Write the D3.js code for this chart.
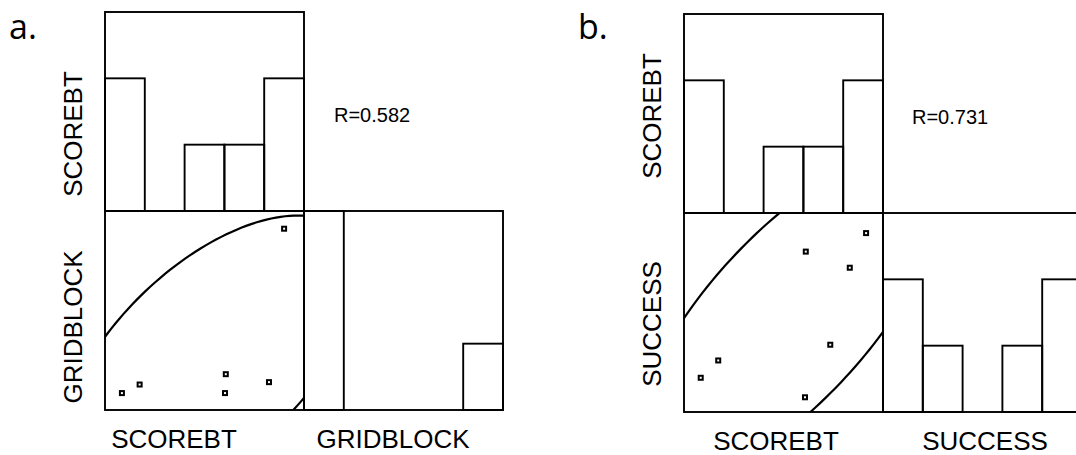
<!DOCTYPE html>
<html>
<head>
<meta charset="utf-8">
<script src="https://cdn.jsdelivr.net/npm/d3@7"></script>
<style>
  body { margin: 0; background: #fff; }
  svg { display: block; }
  text { font-family: "Liberation Sans", Arial, sans-serif; fill: #000; }
</style>
</head>
<body>
<svg id="chart" width="1076" height="455"></svg>
<script>
// values (0-100 units for the scatter axes)
const scorebtA = [8.5, 17.4, 60.7, 60.3, 82.4, 90.0];
const gridblockA = [8.5, 12.8, 18.0, 8.5, 14.0, 91.1];
const scorebtB = [91.5, 61.2, 83.3, 73.5, 17.2, 8.4, 60.8];
const successB = [89.9, 80.6, 72.5, 33.8, 25.9, 17.2, 7.4];

// histogram counts, 5 bins each
const scorebtCounts = [2, 0, 1, 1, 2];
const gridblockCounts = [5, 0, 0, 0, 1];
const successCounts = [2, 1, 0, 1, 2];

const rValues = [0.582, 0.731];
// ellipse stats (mean x, mean y, sd x, sd y), estimated from the drawn curves
const ellipseA = [53.2, 25.5, 30.5, 29.5];
const ellipseB = [52.4, 47.1, 31.4, 33.8];
const chi2_95 = 5.991;

const svg = d3.select("#chart");
const cell = 199;
const lw = 1.9;

function panel(opt) {
  const g = svg.append("g");
  const x0 = opt.x0, yTop = opt.yTop;
  const ySc = yTop + cell;           // scatter top
  const yBot = ySc + cell;           // scatter bottom

  const x = d3.scaleLinear().domain([0, 100]).range([x0, x0 + cell]);
  const y = d3.scaleLinear().domain([0, 100]).range([yBot, ySc]);
  const x2 = d3.scaleLinear().domain([0, 100]).range([x0 + cell, x0 + 2 * cell]);
  const cntTop = d3.scaleLinear().domain([0, 3]).range([ySc, yTop]).clamp(true);
  const cntRight = d3.scaleLinear().domain([0, 3]).range([yBot, ySc]).clamp(true);
  const bins = d3.range(5);

  // top histogram box + bars
  g.append("rect").attr("x", x(0)).attr("y", yTop).attr("width", x(100) - x(0)).attr("height", ySc - yTop)
    .attr("fill", "none").attr("stroke", "#000").attr("stroke-width", lw);
  g.selectAll(".bt").data(bins.filter(i => opt.topCounts[i] > 0)).enter().append("rect")
    .attr("x", i => x(i * 20)).attr("width", x(20) - x(0))
    .attr("y", i => cntTop(opt.topCounts[i])).attr("height", i => ySc - cntTop(opt.topCounts[i]))
    .attr("fill", "none").attr("stroke", "#000").attr("stroke-width", lw);

  // right histogram box + bars
  g.append("rect").attr("x", x2(0)).attr("y", ySc).attr("width", x2(100) - x2(0)).attr("height", yBot - ySc)
    .attr("fill", "none").attr("stroke", "#000").attr("stroke-width", lw);
  g.selectAll(".br").data(bins.filter(i => opt.rightCounts[i] > 0)).enter().append("rect")
    .attr("x", i => x2(i * 20)).attr("width", x2(20) - x2(0))
    .attr("y", i => cntRight(opt.rightCounts[i])).attr("height", i => yBot - cntRight(opt.rightCounts[i]))
    .attr("fill", "none").attr("stroke", "#000").attr("stroke-width", lw);

  // scatter box
  const clipId = "clip" + opt.id;
  svg.append("clipPath").attr("id", clipId).append("rect")
    .attr("x", x(0)).attr("y", ySc).attr("width", x(100) - x(0)).attr("height", yBot - ySc);

  // 95% ellipse
  const [mx, my, sx, sy] = opt.ell;
  const r = opt.r, c = Math.sqrt(chi2_95);
  const ellPts = d3.range(0, 361, 2).map(a => {
    const t = a * Math.PI / 180;
    return [mx + sx * c * Math.cos(t),
            my + sy * c * (r * Math.cos(t) + Math.sqrt(1 - r * r) * Math.sin(t))];
  });
  g.append("path").attr("clip-path", "url(#" + clipId + ")")
    .attr("d", d3.line().x(d => x(d[0])).y(d => y(d[1])).curve(d3.curveLinearClosed)(ellPts))
    .attr("fill", "none").attr("stroke", "#000").attr("stroke-width", 2.2);

  g.append("rect").attr("x", x(0)).attr("y", ySc).attr("width", x(100) - x(0)).attr("height", yBot - ySc)
    .attr("fill", "none").attr("stroke", "#000").attr("stroke-width", lw);

  // points
  g.selectAll(".pt").data(opt.xs.map((v, i) => [v, opt.ys[i]])).enter().append("rect")
    .attr("x", d => x(d[0]) - 2).attr("y", d => y(d[1]) - 2)
    .attr("width", 4).attr("height", 4)
    .attr("fill", "#fff").attr("stroke", "#000").attr("stroke-width", 2);

  // texts
  g.append("text").attr("x", opt.rx).attr("y", opt.ry).style("font-size", "20px")
    .text("R=" + r.toFixed(3));
  opt.vLabels.forEach(l => {
    g.append("text").attr("transform", `translate(${opt.vx},${l[1]}) rotate(-90)`)
      .attr("text-anchor", "middle").style("font-size", "26px").text(l[0]);
  });
  opt.hLabels.forEach(l => {
    g.append("text").attr("x", l[1]).attr("y", opt.hy)
      .attr("text-anchor", "middle").style("font-size", "26px").text(l[0]);
  });
  g.append("text").attr("x", opt.lx).attr("y", 39)
    .style("font-family", "'Open Sans', sans-serif").style("font-size", "34px").text(opt.letter);
}

panel({
  id: "a", x0: 105, yTop: 12, xs: scorebtA, ys: gridblockA,
  topCounts: scorebtCounts, rightCounts: gridblockCounts,
  ell: ellipseA, r: rValues[0],
  rx: 334, ry: 122,
  vx: 82, vLabels: [["SCOREBT", 134], ["GRIDBLOCK", 327]],
  hy: 448, hLabels: [["SCOREBT", 174], ["GRIDBLOCK", 393]],
  lx: 9, letter: "a."
});

panel({
  id: "b", x0: 684, yTop: 14, xs: scorebtB, ys: successB,
  topCounts: scorebtCounts, rightCounts: successCounts,
  ell: ellipseB, r: rValues[1],
  rx: 912, ry: 124,
  vx: 661, vLabels: [["SCOREBT", 116], ["SUCCESS", 324]],
  hy: 450, hLabels: [["SCOREBT", 776], ["SUCCESS", 985]],
  lx: 578, letter: "b."
});
</script>
</body>
</html>
